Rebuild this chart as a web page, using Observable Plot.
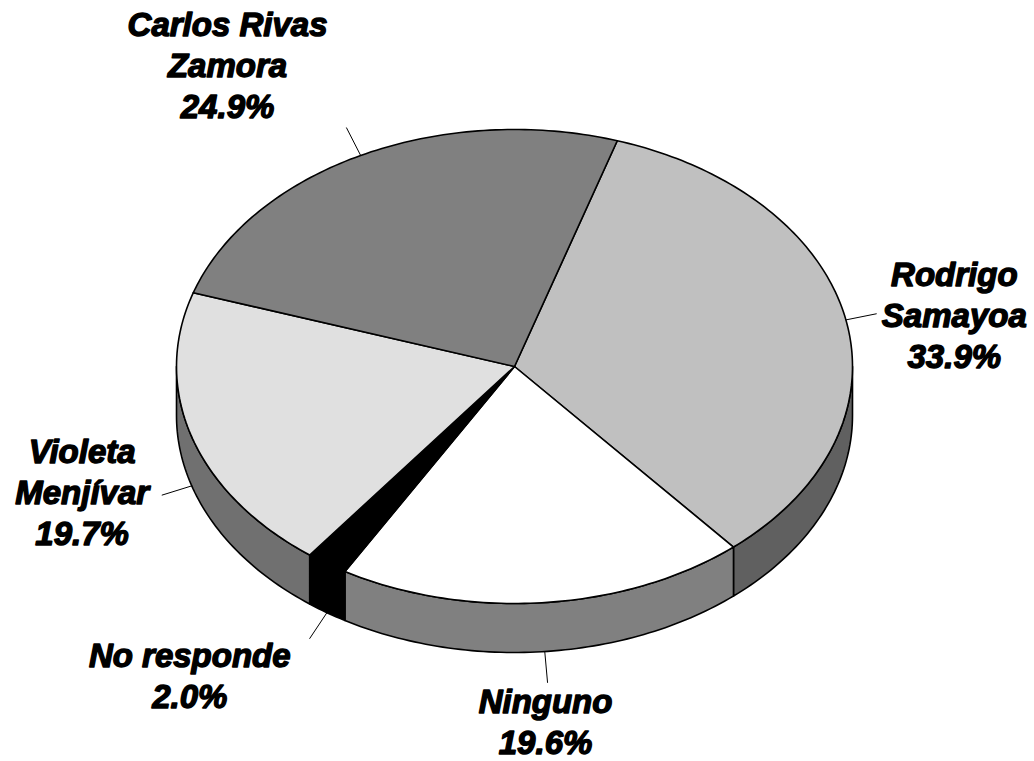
<!DOCTYPE html>
<html><head><meta charset="utf-8">
<script src="https://cdn.jsdelivr.net/npm/d3@7"></script>
<script src="https://cdn.jsdelivr.net/npm/@observablehq/plot@0.6"></script>
<style>body{margin:0;background:#fff}</style>
</head><body><div id="chart"></div>
<script>
// ---- data ----
const names = ["Rodrigo Samayoa", "Ninguno", "No responde", "Violeta Menjívar", "Carlos Rivas Zamora"];
const labelLines = [["Rodrigo", "Samayoa"], ["Ninguno"], ["No responde"], ["Violeta", "Menjívar"], ["Carlos Rivas", "Zamora"]];
const shares = [33.9, 19.6, 2.0, 19.7, 24.9];
const topColors = ["#c0c0c0", "#ffffff", "#000000", "#e0e0e0", "#808080"];
const sideColors = ["#606060", "#808080", "#000000", "#707070", "#404040"];
const labelOffsets = [[78, -28], [-2, 31], [-120, 29], [-80, -32], [-119, -92]];

// ---- layout ----
const W = 1034, H = 761;
const cx = 514, cy = 366, rx = 338, ry = 237, depth = 49, startAngle = 17.7;
const leaderLen = 31, fontSize = 33, lineGap = 41;

const total = d3.sum(shares);
const rad = d => d * Math.PI / 180;
const pt = (a, dy = 0) => ({x: cx + rx * Math.sin(rad(a)), y: cy - ry * Math.cos(rad(a)) + dy});
let acc = startAngle;
const slices = shares.map((v, i) => {
  const a0 = acc, a1 = acc + v / total * 360; acc = a1;
  return {i, a0, a1, mid: (a0 + a1) / 2};
});
function arc(a0, a1, dy) {
  const n = Math.max(2, Math.ceil(Math.abs(a1 - a0)));
  return d3.range(n + 1).map(k => pt(a0 + (a1 - a0) * k / n, dy));
}
const tops = [];
slices.forEach(s => {
  [{x: cx, y: cy}, ...arc(s.a0, s.a1, 0)].forEach(p => tops.push({...p, id: "t" + s.i, fill: topColors[s.i]}));
});
const sides = [];
slices.forEach(s => {
  for (const off of [0, 360]) {
    const lo = Math.max(s.a0, 90 + off), hi = Math.min(s.a1, 270 + off);
    if (hi > lo) {
      [...arc(lo, hi, 0), ...arc(hi, lo, depth)].forEach(p => sides.push({...p, id: "s" + s.i + "_" + off, fill: sideColors[s.i]}));
    }
  }
});
const leaders = [], labels = [];
slices.forEach(s => {
  const a = ((s.mid % 360) + 360) % 360;
  const front = a >= 90 && a <= 270;
  const p = pt(a, front ? depth : 0);
  const e = {x: p.x + leaderLen * Math.sin(rad(a)), y: p.y - leaderLen * Math.cos(rad(a))};
  leaders.push({...p, id: s.i}, {...e, id: s.i});
  const lines = [...labelLines[s.i], shares[s.i].toFixed(1) + "%"];
  const lx = e.x + labelOffsets[s.i][0], ly = e.y + labelOffsets[s.i][1];
  lines.forEach((t, k) => labels.push({x: lx, y: ly + k * lineGap, text: t}));
});

const chart = Plot.plot({
  width: W, height: H, margin: 0,
  x: {domain: [0, W], range: [0, W], axis: null},
  y: {domain: [0, H], range: [0, H], axis: null},
  color: {type: "identity"},
  marks: [
    Plot.line(sides, {x: "x", y: "y", z: "id", fill: "fill", stroke: "black", strokeWidth: 1.6, curve: "linear-closed", strokeLinejoin: "round"}),
    Plot.line(tops, {x: "x", y: "y", z: "id", fill: "fill", stroke: "black", strokeWidth: 1.6, curve: "linear-closed", strokeLinejoin: "round"}),
    Plot.line(leaders, {x: "x", y: "y", z: "id", stroke: "black", strokeWidth: 1}),
    Plot.text(labels, {x: "x", y: "y", text: "text", fontSize, fontWeight: "bold", fontStyle: "italic",
      fontFamily: "Liberation Sans, Arial, sans-serif", textAnchor: "middle", lineAnchor: "bottom",
      fill: "black", stroke: "black", strokeWidth: 1.4, strokeLinejoin: "round"})
  ]
});
document.getElementById("chart").appendChild(chart);
</script>
</body></html>
